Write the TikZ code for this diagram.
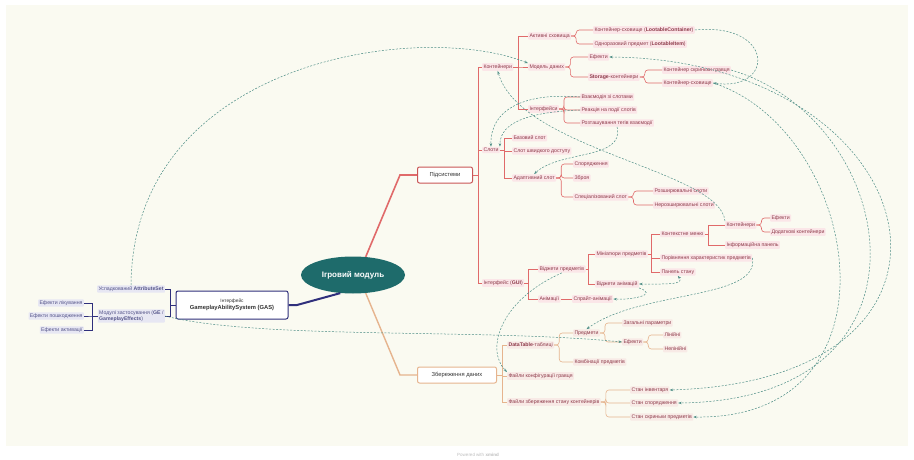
\documentclass[tikz,border=0pt]{standalone}
\usepackage{fontspec}
\setmainfont{Liberation Sans}
\usetikzlibrary{arrows.meta, positioning, shapes.geometric}
\definecolor{paper}{HTML}{FAFAF1}
\definecolor{corefill}{HTML}{1E6B6B}
\definecolor{redbr}{HTML}{E06A6A}
\definecolor{redbox}{HTML}{C95555}
\definecolor{redfill}{HTML}{FBE6E8}
\definecolor{redtxt}{HTML}{8E3A4A}
\definecolor{tanbr}{HTML}{E6B48E}
\definecolor{tanfill}{HTML}{F8EAE6}
\definecolor{navy}{HTML}{2F2F7C}
\definecolor{navyfill}{HTML}{E7E7F3}
\definecolor{navytxt}{HTML}{55558A}
\definecolor{relc}{HTML}{4E8E86}

\begin{document}
\begin{tikzpicture}[
  x=1pt, y=-1pt,
  core/.style={ellipse, fill=corefill, text=white, font=\bfseries\fontsize{8}{9}\selectfont, minimum width=104pt, minimum height=37pt, inner sep=0pt},
  branch/.style={draw, line width=1pt, fill=white, rounded corners=2pt, minimum height=16pt, inner sep=3pt, font=\fontsize{5.8}{7}\selectfont, text=black!80},
  leaf/.style={fill=redfill, text=redtxt, inner sep=1.3pt, rounded corners=0.8pt, font=\fontsize{5.2}{6}\selectfont, anchor=west},
  tleaf/.style={leaf, fill=tanfill},
  gleaf/.style={leaf, fill=navyfill, text=navytxt, anchor=east},
  rline/.style={draw=redbr, line width=0.6pt},
  rcurve/.style={rline, rounded corners=3pt},
  tline/.style={draw=tanbr, line width=0.6pt},
  tcurve/.style={tline, rounded corners=3pt},
  gline/.style={draw=navy, line width=0.6pt},
  rel/.style={draw=relc, line width=0.5pt, dash pattern=on 2pt off 1.5pt, -{Stealth[length=3.5pt,width=2.5pt]}},
  relboth/.style={rel, {Stealth[length=3.5pt,width=2.5pt]}-{Stealth[length=3.5pt,width=2.5pt]}}
]
\useasboundingbox (0,0) rectangle (914,460);
\fill[white] (0,0) rectangle (914,460);
\fill[paper] (6,5) rectangle (908,446);

\node[core] (game) at (353,275) {Ігровий модуль};
\node[branch, draw=redbox, minimum width=55pt] (subs) at (445,175) {Підсистеми};
\node[branch, draw=tanbr, minimum width=79pt] (save) at (457,375) {Збереження даних};
\node[branch, draw=navy, minimum width=112pt, minimum height=28pt, align=center] (gas) at (232,305)
  {{\fontsize{4.8}{6}\selectfont Інтерфейс}\\\textbf{GameplayAbilitySystem (GAS)}};

\draw[redbr, line width=1.6pt] (game.55) -- (400,175) -- (subs.west);
\draw[tanbr, line width=1.4pt] (game.-55) -- (400,375) -- (save.west);
\draw[navy, line width=2pt] (game.235) -- (297,305) -- (gas.east);

\node[leaf] (cont) at (482,67) {Контейнери};
\node[leaf] (slots) at (482,150) {Слоти};
\node[leaf] (gui) at (482,283) {Інтерфейс (\textbf{GUI})};
\foreach \c in {cont,slots,gui} \draw[rline] (subs.east) -- ++(5,0) |- (\c.west);

\node[leaf] (store) at (528,36) {Активні сховища};
\node[leaf] (model) at (528,67) {Модель даних};
\node[leaf] (iface) at (528,109) {Інтерфейси};
\foreach \c in {store,model,iface} \draw[rline] (cont.east) -- ++(5,0) |- (\c.west);

\node[leaf] (lcont) at (593,30) {Контейнер-сховище (\textbf{LootableContainer})};
\node[leaf] (litem) at (593,44) {Одноразовий предмет (\textbf{LootableItem})};
\foreach \c in {lcont,litem} \draw[rcurve] (store.east) -- ++(5,0) |- (\c.west);

\node[leaf] (meff) at (588,57) {Ефекти};
\node[leaf] (storage) at (588,77) {\textbf{Storage}-контейнери};
\foreach \c in {meff,storage} \draw[rcurve] (model.east) -- ++(5,0) |- (\c.west);

\node[leaf] (chest) at (662,70) {Контейнер скриньки гравця};
\node[leaf] (vault) at (662,83) {Контейнер-сховище};
\foreach \c in {chest,vault} \draw[rcurve] (storage.east) -- ++(5,0) |- (\c.west);

\node[leaf] (inter) at (580,97) {Взаємодія зі слотами};
\node[leaf] (react) at (580,110) {Реакція на події слотів};
\node[leaf] (tags) at (580,123) {Розташування тегів взаємодії};
\foreach \c in {inter,react,tags} \draw[rcurve] (iface.east) -- ++(5,0) |- (\c.west);

\node[leaf] (base) at (512,138) {Базовий слот};
\node[leaf] (quick) at (512,151) {Слот швидкого доступу};
\node[leaf] (adapt) at (512,178) {Адаптивний слот};
\foreach \c in {base,quick,adapt} \draw[rline] (slots.east) -- ++(4,0) |- (\c.west);

\node[leaf] (gear) at (573,164) {Спорядження};
\node[leaf] (weap) at (573,178) {Зброя};
\node[leaf] (spec) at (573,197) {Спеціалізований слот};
\foreach \c in {gear,weap,spec} \draw[rcurve] (adapt.east) -- ++(5,0) |- (\c.west);

\node[leaf] (ext) at (653,191) {Розширювальні слоти};
\node[leaf] (noext) at (653,205) {Нерозширювальні слоти};
\foreach \c in {ext,noext} \draw[rcurve] (spec.east) -- ++(5,0) |- (\c.west);

\node[leaf] (widg) at (538,269) {Віджети предметів};
\node[leaf] (anim) at (538,299) {Анімації};
\foreach \c in {widg,anim} \draw[rline] (gui.east) -- ++(4,0) |- (\c.west);
\node[leaf] (sprite) at (572,299) {Спрайт-анімації};
\draw[rline] (anim.east) -- (sprite.west);

\node[leaf] (thumb) at (595,254) {Мініатюри предметів};
\node[leaf] (wanim) at (595,284) {Віджети анімацій};
\foreach \c in {thumb,wanim} \draw[rline] (widg.east) -- ++(3,0) |- (\c.west);

\node[leaf] (menu) at (660,234) {Контекстне меню};
\node[leaf] (comp) at (660,258) {Порівняння характеристик предметів};
\node[leaf] (stat) at (660,272) {Панель стану};
\foreach \c in {menu,comp,stat} \draw[rline] (thumb.east) -- ++(3,0) |- (\c.west);

\node[leaf] (gcont) at (725,225) {Контейнери};
\node[leaf] (info) at (725,245) {Інформаційна панель};
\foreach \c in {gcont,info} \draw[rline] (menu.east) -- ++(4,0) |- (\c.west);

\node[leaf] (geff) at (770,218) {Ефекти};
\node[leaf] (extra) at (770,232) {Додаткові контейнери};
\foreach \c in {geff,extra} \draw[rcurve] (gcont.east) -- ++(5,0) |- (\c.west);

\node[tleaf] (table) at (507,345) {\textbf{DataTable}-таблиці};
\node[tleaf] (conf) at (507,376) {Файли конфігурації гравця};
\node[tleaf] (files) at (507,402) {Файли збереження стану контейнерів};
\foreach \c in {table,conf,files} \draw[tline] (save.east) -- ++(5,0) |- (\c.west);

\node[tleaf] (items) at (573,333) {Предмети};
\node[tleaf] (combo) at (573,362) {Комбінації предметів};
\foreach \c in {items,combo} \draw[tcurve] (table.east) -- ++(5,0) |- (\c.west);

\node[tleaf] (gen) at (622,323) {Загальні параметри};
\node[tleaf] (ieff) at (622,342) {Ефекти};
\foreach \c in {gen,ieff} \draw[tcurve] (items.east) -- ++(5,0) |- (\c.west);

\node[tleaf] (lin) at (663,335) {Лінійні};
\node[tleaf] (nonlin) at (663,349) {Нелінійні};
\foreach \c in {lin,nonlin} \draw[tcurve] (ieff.east) -- ++(5,0) |- (\c.west);

\node[tleaf] (sinv) at (630,390) {Стан інвентаря};
\node[tleaf] (sgear) at (630,403) {Стан спорядження};
\node[tleaf] (schest) at (630,417) {Стан скриньки предметів};
\foreach \c in {sinv,sgear,schest} \draw[tcurve] (files.east) -- ++(5,0) |- (\c.west);

\node[gleaf] (attr) at (165,289) {Успадкований \textbf{AttributeSet}};
\node[gleaf, align=left] (gemod) at (165,316) {Модулі застосування (\textbf{GE} /\\\textbf{GameplayEffects})};
\foreach \c in {attr,gemod} \draw[gline] (gas.west) -- ++(-5,0) |- (\c.east);

\node[gleaf] (heal) at (84,303) {Ефекти лікування};
\node[gleaf] (dmg) at (84,316) {Ефекти пошкодження};
\node[gleaf] (act) at (84,330) {Ефекти активації};
\foreach \c in {heal,dmg,act} \draw[gline] (gemod.west) -- ++(-5,0) |- (\c.east);

\draw[rel] (attr.north) .. controls (133,60) and (420,20) .. (model.north west);
\draw[rel] (gemod.east) .. controls (260,340) and (480,328) .. (ieff.west);
\draw[rel] (lcont.east) .. controls (775,22) and (775,92) .. (vault.east);
\draw[relboth] (meff.east) .. controls (930,60) and (1010,380) .. (sinv.east);
\draw[rel] (chest.east) .. controls (900,120) and (950,400) .. (sgear.east);
\draw[rel] (vault.east) .. controls (860,130) and (910,420) .. (schest.east);
\draw[rel] (inter.west) .. controls (520,92) and (490,112) .. (slots.north);
\draw[rel] (react.west) .. controls (530,112) and (500,122) .. (slots.north east);
\draw[rel] (gcont.north west) .. controls (720,170) and (520,150) .. (cont.south);
\draw[rel] (tags.south) .. controls (625,160) and (560,150) .. (adapt.north);
\draw[rel] (widg.south) .. controls (500,300) and (485,350) .. (conf.north west);
\draw[rel] (comp.east) .. controls (760,300) and (640,290) .. (items.north);
\draw[relboth] (wanim.east) .. controls (665,284) and (685,285) .. (stat.south);
\draw[rel] (wanim.south east) .. controls (660,295) and (630,300) .. (sprite.east);

\node[text=black!25, font=\fontsize{4.5}{5}\selectfont] (brand) at (478,455) {Powered with \textbf{xmind}};
\end{tikzpicture}
\end{document}
